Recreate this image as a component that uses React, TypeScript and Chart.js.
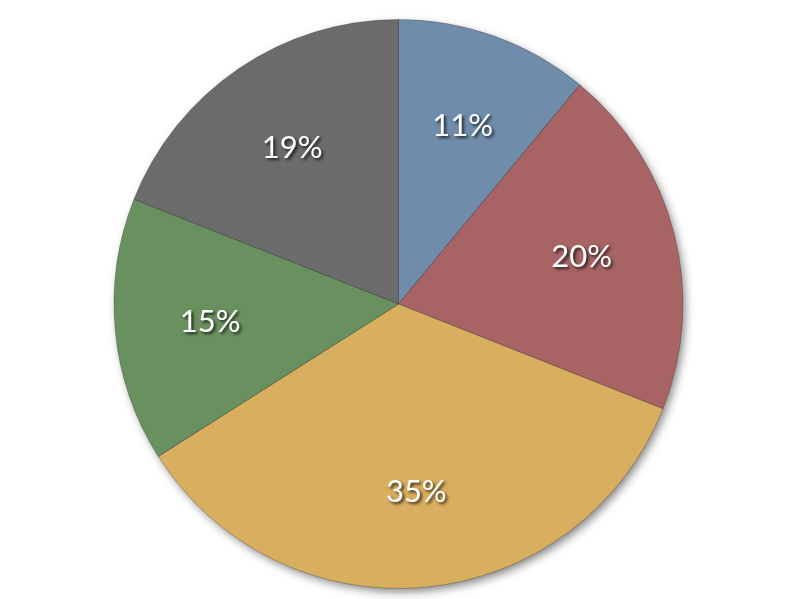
import { useEffect, useRef } from "react";
import { Chart, registerables } from "chart.js";
import type { Plugin } from "chart.js";

Chart.register(...registerables);

const labels = ["A", "B", "C", "D", "E"];
const values = [11, 20, 35, 15, 19];
const colors = ["#6f8dab", "#a86464", "#d8ae5f", "#69905f", "#6b6b6b"];

// soft drop shadow under the whole pie (drawn once, not per slice)
const shadowPlugin: Plugin<"pie"> = {
  id: "pieShadow",
  beforeDatasetsDraw(chart) {
    const arc: any = chart.getDatasetMeta(0).data[0];
    if (!arc) return;
    const { x, y, outerRadius } = arc.getProps(["x", "y", "outerRadius"], true);
    const ctx = chart.ctx;
    ctx.save();
    ctx.shadowColor = "rgba(0,0,0,0.5)";
    ctx.shadowBlur = 10;
    ctx.shadowOffsetX = 3;
    ctx.shadowOffsetY = 4;
    ctx.fillStyle = "#888888";
    ctx.beginPath();
    ctx.arc(x, y, outerRadius - 1, 0, Math.PI * 2);
    ctx.fill();
    ctx.restore();
  },
};

// percent labels inside slices
const labelPlugin: Plugin<"pie"> = {
  id: "pieLabels",
  afterDatasetsDraw(chart) {
    const ctx = chart.ctx;
    const meta = chart.getDatasetMeta(0);
    const total = values.reduce((a, b) => a + b, 0);
    ctx.save();
    ctx.font = '31px "Lato", "Open Sans", sans-serif';
    ctx.fillStyle = "#ffffff";
    ctx.textAlign = "center";
    ctx.textBaseline = "middle";
    ctx.shadowColor = "rgba(0,0,0,0.75)";
    ctx.shadowBlur = 3;
    ctx.shadowOffsetX = 2;
    ctx.shadowOffsetY = 2;
    meta.data.forEach((arc: any, i) => {
      const { x, y, startAngle, endAngle, outerRadius } = arc.getProps(
        ["x", "y", "startAngle", "endAngle", "outerRadius"],
        true
      );
      const mid = (startAngle + endAngle) / 2;
      const d = outerRadius * 0.665;
      const text = Math.round((values[i] / total) * 100) + "%";
      ctx.fillText(text, x + d * Math.cos(mid), y + d * Math.sin(mid));
    });
    ctx.restore();
  },
};

export default function App() {
  const canvasRef = useRef<HTMLCanvasElement>(null);
  const chartRef = useRef<Chart | null>(null);

  useEffect(() => {
    document.body.style.margin = "0";
    if (!canvasRef.current) return;
    const ctx = canvasRef.current.getContext("2d");
    if (!ctx) return;

    if (chartRef.current) chartRef.current.destroy();

    chartRef.current = new Chart(ctx, {
      type: "pie",
      data: {
        labels,
        datasets: [
          {
            data: values,
            backgroundColor: colors,
            borderColor: "rgba(40,40,40,0.3)",
            borderWidth: 1,
          },
        ],
      },
      options: {
        responsive: false,
        animation: false,
        layout: { padding: { top: 19, bottom: 10, left: 0, right: 0 } },
        plugins: {
          legend: { display: false },
          tooltip: { enabled: false },
        },
      },
      plugins: [shadowPlugin, labelPlugin],
    });

    return () => {
      if (chartRef.current) {
        chartRef.current.destroy();
        chartRef.current = null;
      }
    };
  }, []);

  return (
    <div style={{ width: 797, height: 599, background: "#ffffff" }}>
      <canvas ref={canvasRef} width={797} height={599} />
    </div>
  );
}
